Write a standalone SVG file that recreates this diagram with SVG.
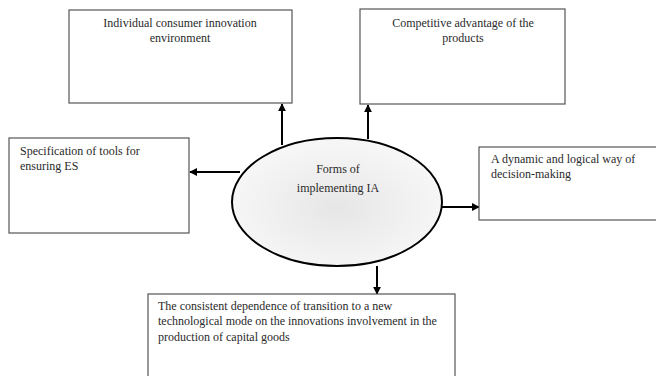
<svg xmlns="http://www.w3.org/2000/svg" width="656" height="376" viewBox="0 0 656 376">
<style>
.box{fill:#fff;stroke:#555;stroke-width:1.2}
.t{font-family:"Liberation Serif",serif;font-size:12px;fill:#2a2a2a}
.c{text-anchor:middle}
.ar{stroke:#000;stroke-width:2;fill:none;marker-end:url(#ah)}
</style>
<defs>
<marker id="ah" viewBox="0 0 10 10" refX="9" refY="5" markerWidth="4" markerHeight="4" orient="auto" markerUnits="strokeWidth">
<path d="M0,0 L10,5 L0,10 z" fill="#000"/>
</marker>
<radialGradient id="eg" cx="0.5" cy="0.55" r="0.5">
<stop offset="0" stop-color="#e6e6e6"/>
<stop offset="1" stop-color="#f6f6f6"/>
</radialGradient>
</defs>
<rect width="656" height="376" fill="#fff"/>
<g id="connectors">
<line class="ar" x1="282" y1="145" x2="282" y2="104"/>
<line class="ar" x1="368" y1="139" x2="368" y2="105"/>
<line class="ar" x1="240" y1="172" x2="190" y2="172"/>
<line class="ar" x1="442" y1="207" x2="479" y2="207"/>
<line class="ar" x1="377" y1="266" x2="377" y2="294"/>
</g>
<g id="center">
<ellipse cx="337" cy="202" rx="105" ry="64" fill="url(#eg)" stroke="#000" stroke-width="2"/>
<text class="t c" x="338" y="173">Forms of</text>
<text class="t c" x="338" y="192">implementing IA</text>
</g>
<g id="n1">
<rect class="box" x="69" y="10" width="223" height="93"/>
<text class="t c" x="180" y="27">Individual consumer innovation</text>
<text class="t c" x="180" y="42">environment</text>
</g>
<g id="n2">
<rect class="box" x="360" y="9" width="205" height="95"/>
<text class="t c" x="463" y="27">Competitive advantage of the</text>
<text class="t c" x="463" y="42">products</text>
</g>
<g id="n3">
<rect class="box" x="9" y="138" width="180" height="95"/>
<text class="t" x="20" y="155">Specification of tools for</text>
<text class="t" x="20" y="170">ensuring ES</text>
</g>
<g id="n4">
<rect class="box" x="479" y="147" width="200" height="73"/>
<text class="t" x="491" y="163">A dynamic and logical way of</text>
<text class="t" x="491" y="178">decision-making</text>
</g>
<g id="n5">
<rect class="box" x="148" y="294" width="307" height="100"/>
<text class="t" x="158" y="310">The consistent dependence of transition to a new</text>
<text class="t" x="158" y="325">technological mode on the innovations involvement in the</text>
<text class="t" x="158" y="341">production of capital goods</text>
</g>
</svg>
